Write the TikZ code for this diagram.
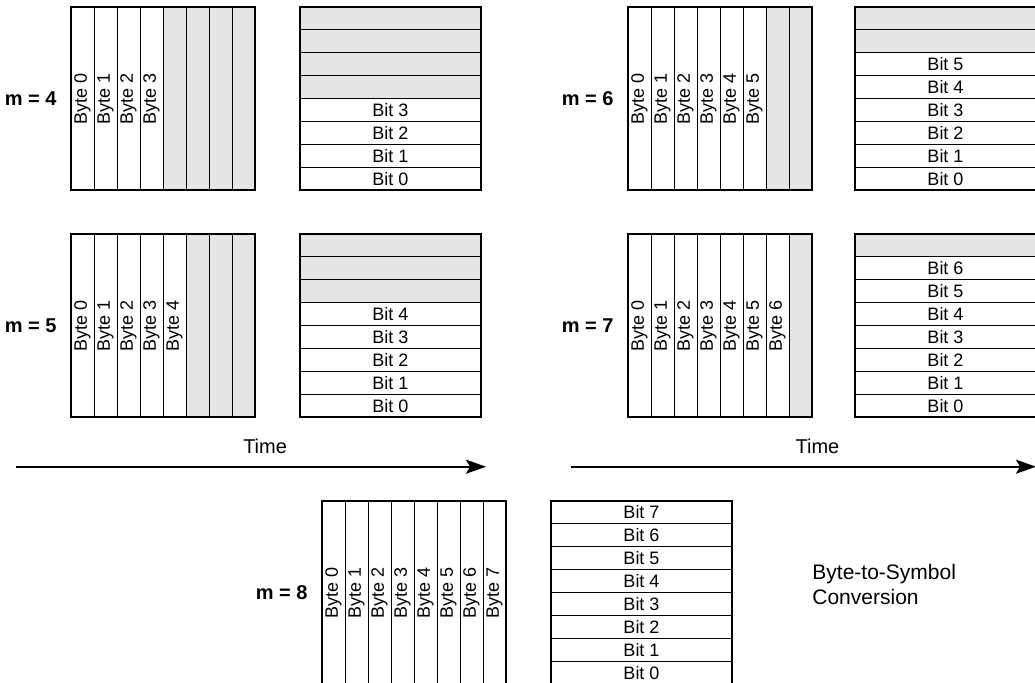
\documentclass[tikz,border=0pt]{standalone}
\usepackage{fontspec}
\setmainfont{Liberation Sans}
\usetikzlibrary{positioning,arrows.meta}

\begin{document}
\begin{tikzpicture}[
  x=0.5pt, y=-0.5pt,
  cell/.style={draw, line width=0.5pt, inner sep=0pt, outer sep=0pt, anchor=north west},
  bytecell/.style={cell, minimum width=11.5pt, minimum height=91.5pt,
                   font=\fontsize{9}{10}\selectfont},
  bitcell/.style={cell, minimum width=90.5pt, minimum height=11.4375pt,
                  font=\fontsize{9}{10}\selectfont},
  unused/.style={fill=gray!20},
  frame/.style={draw, line width=1pt},
  mlabel/.style={font=\fontsize{10}{12}\selectfont\bfseries, inner sep=0pt},
  timearrow/.style={-{Stealth[length=10pt,width=7pt,inset=2pt]}, line width=1pt}
]
  \useasboundingbox (0,0) rectangle (1035,682);

  % one panel per symbol size m: byte grid and bit column
  \foreach \p/\m/\gx/\gy/\bx in {A/4/71/7/300, B/6/628/7/855,
                                 C/5/71/234/300, D/7/628/234/855,
                                 E/8/322/501/551} {
    \foreach \i in {0,...,7} {
      \ifnum\i<\m
        \node[bytecell] (\p-byte\i) at ({\gx+23*\i},\gy) {\rotatebox{90}{Byte \i}};
        \node[bitcell] (\p-bit\i) at (\bx,{\gy+22.875*(7-\i)}) {Bit \i};
      \else
        \node[bytecell,unused] (\p-byte\i) at ({\gx+23*\i},\gy) {};
        \node[bitcell,unused] (\p-bit\i) at (\bx,{\gy+22.875*(7-\i)}) {};
      \fi
    }
    \draw[frame] (\p-byte0.north west) rectangle (\p-byte7.south east);
    \draw[frame] (\p-bit7.north west) rectangle (\p-bit0.south east);
    \node[mlabel, left=7pt of \p-byte0] (\p-m) {m = \m};
  }

  % time axes
  \coordinate (t1-start) at (16,466.7);
  \coordinate (t1-end) at (486,466.7);
  \coordinate (t2-start) at (571,466.7);
  \coordinate (t2-end) at (1036,466.7);
  \draw[timearrow] (t1-start) -- node[pos=0.53, above=5.8pt, inner sep=0pt,
    font=\fontsize{10}{12}\selectfont] (t1-label) {Time} (t1-end);
  \draw[timearrow] (t2-start) -- node[pos=0.53, above=5.8pt, inner sep=0pt,
    font=\fontsize{10}{12}\selectfont] (t2-label) {Time} (t2-end);

  \node[anchor=west, align=left, inner sep=0pt,
        font=\fontsize{10.5}{12.5}\selectfont] (caption) at (812,584)
    {Byte-to-Symbol\\Conversion};
\end{tikzpicture}
\end{document}
